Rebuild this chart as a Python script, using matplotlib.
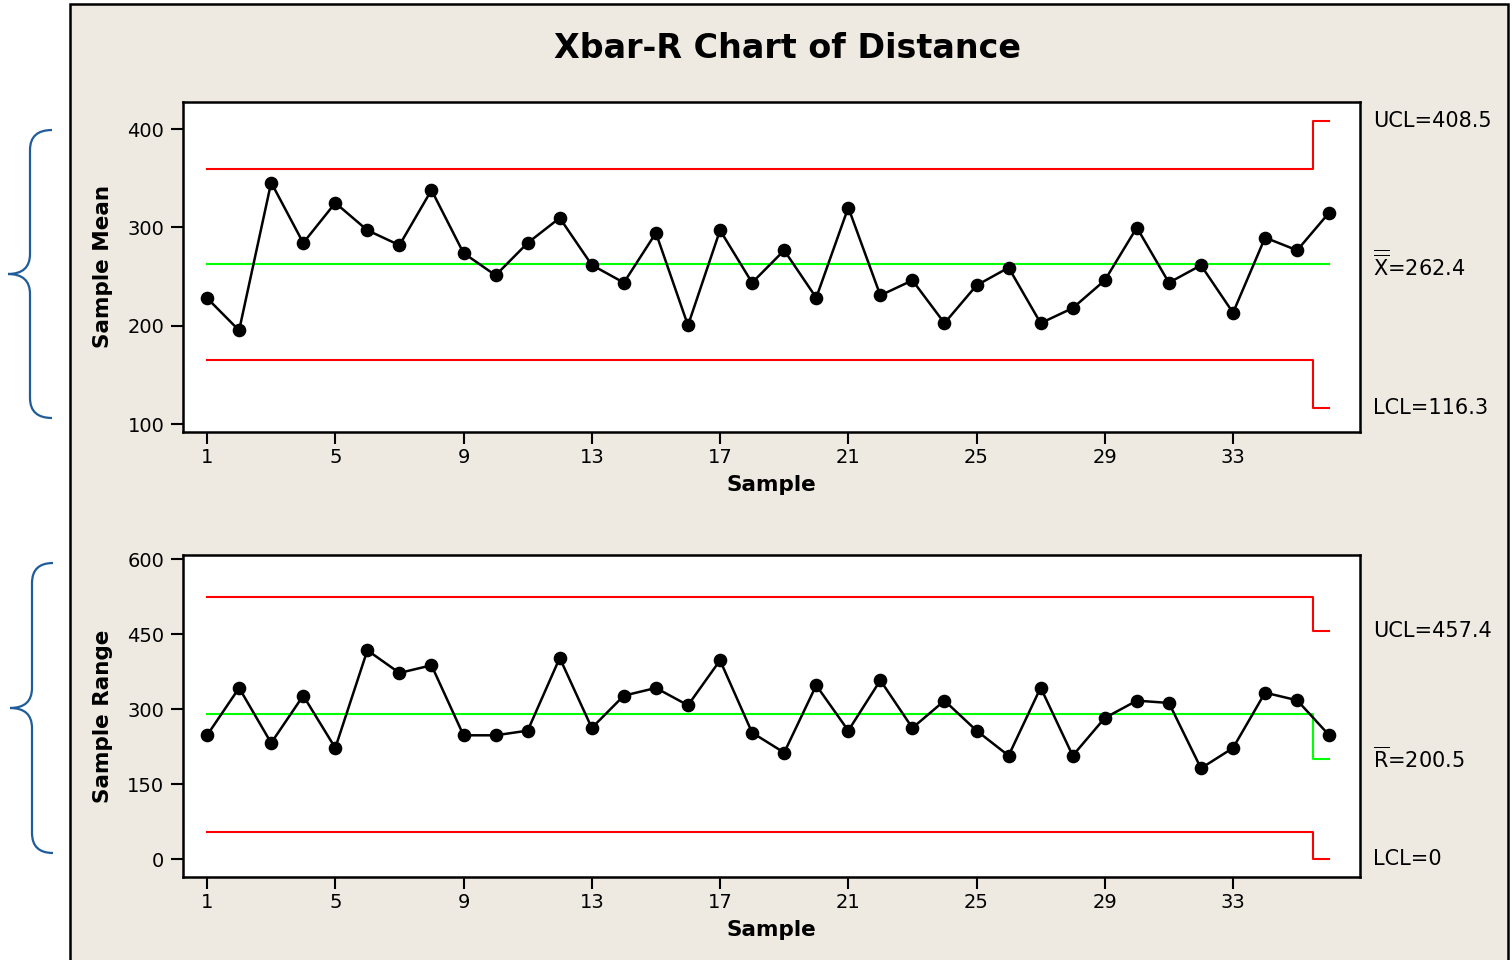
import matplotlib
matplotlib.use('Agg')
import matplotlib.pyplot as plt
from matplotlib.patches import Rectangle, PathPatch
from matplotlib.path import Path
from matplotlib.transforms import blended_transform_factory

plt.rcParams['font.family'] = ['DejaVu Sans']
plt.rcParams['mathtext.fontset'] = 'dejavusans'

# ---------------- data ----------------
samples = list(range(1, 37))
sample_means = [228.3, 195.4, 345.7, 284.3, 325.0, 297.2, 282.0, 338.0, 274.0, 251.4,
                284.3, 309.7, 261.9, 243.9, 294.5, 200.5, 297.2, 243.9, 276.8, 228.6,
                320.3, 231.0, 246.3, 202.8, 241.2, 259.2, 202.8, 218.1, 246.3, 299.9,
                243.9, 261.6, 213.4, 289.7, 276.8, 315.2]
sample_ranges = [248.0, 342.7, 232.7, 327.3, 222.7, 418.0, 372.7, 388.0, 248.0, 248.0,
                 257.3, 402.7, 262.7, 327.3, 342.7, 308.0, 398.0, 253.3, 213.3, 348.0,
                 257.3, 358.0, 262.7, 317.3, 257.3, 207.3, 343.3, 207.3, 282.7, 317.3,
                 312.7, 182.0, 222.7, 333.3, 318.0, 248.0]

# control limits: [all but last subgroup, last subgroup]
xbar_center = 262.4
xbar_ucl = [359.0, 408.5]
xbar_lcl = [165.8, 116.3]
r_center = [290.0, 200.5]
r_ucl = [525.5, 457.4]
r_lcl = [54.0, 0.0]

x_ticks = [1, 5, 9, 13, 17, 21, 25, 29, 33]
mean_yticks = [100, 200, 300, 400]
range_yticks = [0, 150, 300, 450, 600]

title = 'Xbar-R Chart of Distance'
mean_labels = ['UCL=408.5', r'$\overline{\overline{\mathrm{X}}}$=262.4', 'LCL=116.3']
range_labels = ['UCL=457.4', r'$\overline{\mathrm{R}}$=200.5', 'LCL=0']

# ---------------- figure ----------------
W, H = 1512, 960
fig = plt.figure(figsize=(W / 100, H / 100), dpi=100)
fig.patch.set_facecolor('white')

BEIGE = '#EEEAE1'
RED = '#FF0000'
GREEN = '#00FF00'
BLUE = '#1F5C99'

bg = fig.add_axes([0, 0, 1, 1], zorder=0)
bg.set_xlim(0, W)
bg.set_ylim(H, 0)
bg.axis('off')
bg.add_patch(Rectangle((70, 4), 1438, 980, facecolor=BEIGE, edgecolor='black', linewidth=1.8))


def brace(ax, x_tip, x_mid, x_end, y_top, y_bot, r=20):
    y_mid = (y_top + y_bot) / 2
    verts = [(x_end, y_top), (x_mid, y_top), (x_mid, y_top + r),
             (x_mid, y_mid - r),
             (x_mid, y_mid), (x_tip, y_mid),
             (x_mid, y_mid), (x_mid, y_mid + r),
             (x_mid, y_bot - r),
             (x_mid, y_bot), (x_end, y_bot)]
    codes = [Path.MOVETO, Path.CURVE3, Path.CURVE3,
             Path.LINETO,
             Path.CURVE3, Path.CURVE3,
             Path.CURVE3, Path.CURVE3,
             Path.LINETO,
             Path.CURVE3, Path.CURVE3]
    ax.add_patch(PathPatch(Path(verts, codes), facecolor='none', edgecolor=BLUE, linewidth=1.6))


brace(bg, 8, 30, 52, 130, 418)
brace(bg, 10, 32, 53, 563, 853)

fig.text(787 / W, 1 - 48 / H, title, ha='center', va='center', fontsize=24, fontweight='bold')


def px_rect(l, t, r, b):
    return [l / W, 1 - b / H, (r - l) / W, (b - t) / H]


def style(ax, yticks, ylim, ylabel):
    ax.set_facecolor('white')
    for s in ax.spines.values():
        s.set_linewidth(1.8)
        s.set_color('black')
    ax.set_xlim(0.25, 36.96)
    ax.set_ylim(*ylim)
    ax.set_xticks(x_ticks)
    ax.set_yticks(yticks)
    ax.tick_params(direction='out', length=8.5, width=1.5, labelsize=14, colors='black')
    ax.tick_params(axis='y', pad=5)
    ax.tick_params(axis='x', pad=3)
    ax.tick_params(top=False, right=False)
    h = ax.get_position().height * H
    ax.set_xlabel('Sample', fontsize=15.5, fontweight='bold')
    ax.xaxis.set_label_coords(0.5, -53 / h)
    ax.xaxis.label.set_verticalalignment('center')
    ax.set_ylabel(ylabel, fontsize=15.5, fontweight='bold')
    ax.yaxis.set_label_coords(-80 / 1177, 0.5)
    ax.yaxis.label.set_verticalalignment('center')


n = len(samples)
step_x = [samples[0], n - 0.5, n - 0.5, samples[-1]]


def step_y(v):
    return [v[0], v[0], v[1], v[1]]


# ---- Xbar chart ----
ax1 = fig.add_axes(px_rect(183, 102, 1360, 432), zorder=1)
style(ax1, mean_yticks, (92.2, 427.5), 'Sample Mean')
ax1.plot(step_x, step_y(xbar_ucl), color=RED, lw=1.5)
ax1.plot(step_x, step_y(xbar_lcl), color=RED, lw=1.5)
ax1.plot([samples[0], samples[-1]], [xbar_center, xbar_center], color=GREEN, lw=1.5)
ax1.plot(samples, sample_means, color='black', lw=1.8, marker='o', ms=8.8)
tr1 = blended_transform_factory(ax1.transAxes, ax1.transData)
for lab, val in zip(mean_labels, [xbar_ucl[1], xbar_center, xbar_lcl[1]]):
    ax1.text(1.011, val, lab, transform=tr1, ha='left', va='center', fontsize=15, clip_on=False)

# ---- R chart ----
ax2 = fig.add_axes(px_rect(183, 555, 1360, 877), zorder=1)
style(ax2, range_yticks, (-35.4, 608.6), 'Sample Range')
ax2.plot(step_x, step_y(r_ucl), color=RED, lw=1.5)
ax2.plot(step_x, step_y(r_lcl), color=RED, lw=1.5)
ax2.plot(step_x, step_y(r_center), color=GREEN, lw=1.5)
ax2.plot(samples, sample_ranges, color='black', lw=1.8, marker='o', ms=8.8)
tr2 = blended_transform_factory(ax2.transAxes, ax2.transData)
for lab, val in zip(range_labels, [r_ucl[1], r_center[1], r_lcl[1]]):
    ax2.text(1.011, val, lab, transform=tr2, ha='left', va='center', fontsize=15, clip_on=False)

fig.savefig('out.png', dpi=100, facecolor=fig.get_facecolor())
